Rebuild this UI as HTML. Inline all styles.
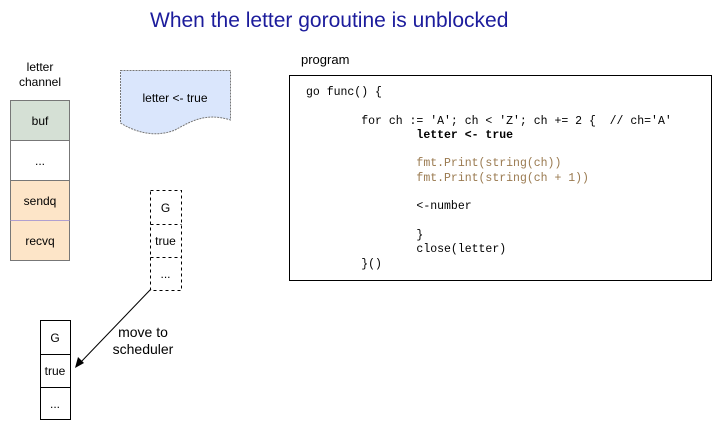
<!DOCTYPE html>
<html><head><meta charset="utf-8"><style>
body{margin:0;width:721px;height:431px;background:#fff;position:relative;overflow:hidden;font-family:"Liberation Sans",Arial,sans-serif;color:#000}
.a{position:absolute}
.cell{position:absolute;box-sizing:border-box;display:flex;align-items:center;justify-content:center;font-size:12px}
pre{margin:0;font-family:"Liberation Mono","Courier New",monospace;font-size:11.5px;line-height:14.3px;position:absolute}
</style></head><body>
<div class="a" style="left:150px;top:9px;font-size:21px;color:#1c1c9c;white-space:nowrap">When the letter goroutine is unblocked</div>

<div class="a" style="left:0;width:80px;top:60px;text-align:center;font-size:12px;line-height:15px">letter<br>channel</div>
<div class="cell" style="left:10px;top:100px;width:60px;height:41px;background:#d5e0d5;border:1px solid #777">buf</div>
<div class="cell" style="left:10px;top:140px;width:60px;height:41px;background:#fff;border:1px solid #777">...</div>
<div class="cell" style="left:10px;top:180px;width:60px;height:41px;background:#fde5c8;border:1px solid #777">sendq</div>
<div class="cell" style="left:10px;top:220px;width:60px;height:41px;background:#fde5c8;border:1px solid #777;border-top-color:#b0a0d0">recvq</div>

<svg class="a" style="left:0;top:0" width="721" height="431">
<path d="M120.5 70.5 H230.5 V120 C205 112 190 122 175 130 C155 138 135 132 120.5 123 Z" fill="#dae6fc" stroke="#777" stroke-dasharray="2,1"/>
<rect x="150.5" y="190.5" width="31" height="100" fill="none" stroke="#000" stroke-dasharray="3,3"/>
<line x1="150.5" y1="224.5" x2="181.5" y2="224.5" stroke="#000" stroke-dasharray="3,3"/>
<line x1="150.5" y1="257.5" x2="181.5" y2="257.5" stroke="#000" stroke-dasharray="3,3"/>
<rect x="40.5" y="320.5" width="30" height="99" fill="none" stroke="#000"/>
<line x1="40.5" y1="354.5" x2="70.5" y2="354.5" stroke="#000"/>
<line x1="40.5" y1="387.5" x2="70.5" y2="387.5" stroke="#000"/>
<line x1="151" y1="289" x2="80" y2="363" stroke="#000"/>
<path d="M75 368 L78 357 L84 363 Z" fill="#000"/>
<rect x="289.5" y="75.5" width="422" height="205" fill="none" stroke="#000"/>
</svg>
<div class="a" style="left:120px;width:110px;top:91px;text-align:center;font-size:12px">letter &lt;- true</div>
<div class="cell" style="left:150px;top:191px;width:31px;height:33px">G</div>
<div class="cell" style="left:150px;top:224px;width:31px;height:33px">true</div>
<div class="cell" style="left:150px;top:257px;width:31px;height:33px">...</div>
<div class="cell" style="left:40px;top:321px;width:30px;height:33px">G</div>
<div class="cell" style="left:40px;top:354px;width:30px;height:33px">true</div>
<div class="cell" style="left:40px;top:387px;width:30px;height:33px">...</div>
<div class="a" style="left:93px;width:100px;top:324px;text-align:center;font-size:14px;line-height:17px">move to<br>scheduler</div>

<div class="a" style="left:301px;top:52px;font-size:13px">program</div>
<pre style="left:306px;top:86px">go func() {

        for ch := 'A'; ch &lt; 'Z'; ch += 2 {  // ch='A'
                <b>letter &lt;- true</b>

                <span style="color:#9a7a50">fmt.Print(string(ch))</span>
                <span style="color:#9a7a50">fmt.Print(string(ch + 1))</span>

                &lt;-number

                }
                close(letter)
        }()</pre>
</body></html>
